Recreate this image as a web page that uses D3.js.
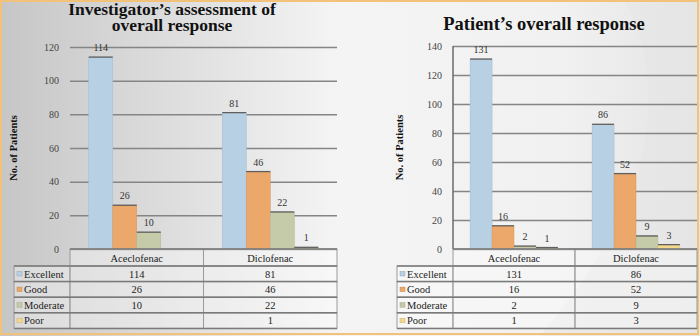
<!DOCTYPE html>
<html>
<head>
<meta charset="utf-8">
<script src="https://cdn.jsdelivr.net/npm/d3@7"></script>
<style>
  html, body { margin: 0; padding: 0; background: #fff; }
  svg { display: block; }
  svg text { font-family: "Liberation Serif", "DejaVu Serif", "Times New Roman", Times, serif; }
</style>
</head>
<body>
<svg width="700" height="336"></svg>
<script>
// data
var drugs = ["Aceclofenac", "Diclofenac"];
var levels = ["Excellent", "Good", "Moderate", "Poor"];
var levelColors = ["#b8d0e4", "#eca86b", "#c5caa8", "#f5d88c"];
var investigatorValues = [[114, 81], [26, 46], [10, 22], [null, 1]];
var patientValues = [[131, 86], [16, 52], [2, 9], [1, 3]];
var investigatorTicks = [0, 20, 40, 60, 80, 100, 120];
var patientTicks = [0, 20, 40, 60, 80, 100, 120, 140];

var svg = d3.select("svg");
var serif = "Liberation Serif, DejaVu Serif, Times New Roman, serif";

// background
var defs = svg.append("defs");
var bg = defs.append("linearGradient").attr("id", "bg").attr("x1", 0).attr("x2", 1).attr("y1", 0).attr("y2", 0);
bg.append("stop").attr("offset", "0%").attr("stop-color", "#c6c6c6");
bg.append("stop").attr("offset", "48%").attr("stop-color", "#f4f4f4");
bg.append("stop").attr("offset", "80%").attr("stop-color", "#f1f1f1");
bg.append("stop").attr("offset", "100%").attr("stop-color", "#e4e4e4");
svg.append("rect").attr("width", 700).attr("height", 336).attr("fill", "url(#bg)");
svg.append("path")
    .attr("d", "M625,0 Q700,150 540,336 L700,336 L700,0 Z")
    .attr("fill", "#e6e6e6").attr("opacity", 0.55);
svg.append("rect").attr("x", 1).attr("y", 1).attr("width", 697).attr("height", 333)
    .attr("fill", "none").attr("stroke", "#f2c27a").attr("stroke-width", 2);

var panels = [
  {title: ["Investigator\u2019s assessment of", "overall response"], titleX: 172, titleY: [15, 31],
   titleSize: 17.5,
   x0: 70, x1: 337, yTop: 47, yBottom: 249, max: 120, ticks: investigatorTicks,
   values: investigatorValues, legendX: 14, axisTitleX: 17, axisLine: false},
  {title: ["Patient\u2019s overall response"], titleX: 544, titleY: [30], titleSize: 18.5,
   x0: 453, x1: 697, yTop: 46, yBottom: 249, max: 140, ticks: patientTicks,
   values: patientValues, legendX: 397, axisTitleX: 403, axisLine: true}
];

panels.forEach(function(p) {
  var g = svg.append("g");

  // title
  g.selectAll(".title").data(p.title).enter().append("text")
      .attr("x", p.titleX)
      .attr("y", function(d, i) { return p.titleY[i]; })
      .attr("text-anchor", "middle")
      .attr("font-family", serif).attr("font-weight", "bold").attr("font-size", p.titleSize)
      .attr("fill", "#111")
      .text(function(d) { return d; });

  var y = d3.scaleLinear().domain([0, p.max]).range([p.yBottom, p.yTop]);
  var x = d3.scaleBand().domain(drugs).range([p.x0, p.x1]);
  var xi = d3.scaleBand().domain(levels).range([0, x.bandwidth()]).paddingOuter(0.78);

  // gridlines
  g.append("g")
      .attr("transform", "translate(" + p.x0 + ",0)")
      .call(d3.axisLeft(y).tickValues(p.ticks).tickSize(-(p.x1 - p.x0)).tickFormat(""))
      .call(function(a) {
        a.select(".domain").remove();
        a.selectAll("line").attr("stroke", "#858585").attr("stroke-width", 1.5);
      });

  // y axis labels
  g.append("g")
      .attr("transform", "translate(" + (p.x0 - 8) + ",0)")
      .call(d3.axisLeft(y).tickValues(p.ticks).tickSize(0))
      .call(function(a) {
        a.select(".domain").remove();
        a.selectAll("text").attr("font-family", serif).attr("font-size", 10).attr("fill", "#444");
      });

  if (p.axisLine) {
    g.append("line").attr("x1", p.x0).attr("x2", p.x0).attr("y1", y(p.max)).attr("y2", y(0))
        .attr("stroke", "#6a6a6a").attr("stroke-width", 1.5);
  }

  // axis title
  g.append("text")
      .attr("transform", "translate(" + p.axisTitleX + "," + ((p.yTop + p.yBottom) / 2) + ") rotate(-90)")
      .attr("text-anchor", "middle")
      .attr("font-family", serif).attr("font-weight", "bold").attr("font-size", 10.5)
      .attr("fill", "#111")
      .text("No. of Patients");

  // bars
  var cells = [];
  p.values.forEach(function(row, li) {
    row.forEach(function(v, di) {
      if (v !== null) cells.push({level: levels[li], li: li, drug: drugs[di], value: v});
    });
  });

  var bars = g.selectAll(".bar").data(cells).enter().append("g");
  bars.append("rect")
      .attr("x", function(d) { return x(d.drug) + xi(d.level); })
      .attr("y", function(d) { return y(d.value); })
      .attr("width", xi.bandwidth())
      .attr("height", function(d) { return y(0) - y(d.value); })
      .attr("fill", function(d) { return levelColors[d.li]; })
      .attr("stroke", function(d) { return d3.color(levelColors[d.li]).darker(0.3); })
      .attr("stroke-width", 0.5);
  bars.append("line")
      .attr("x1", function(d) { return x(d.drug) + xi(d.level); })
      .attr("x2", function(d) { return x(d.drug) + xi(d.level) + xi.bandwidth(); })
      .attr("y1", function(d) { return y(d.value); })
      .attr("y2", function(d) { return y(d.value); })
      .attr("stroke", "#5f5f5f").attr("stroke-width", 1.3);
  bars.append("text")
      .attr("x", function(d) { return x(d.drug) + xi(d.level) + xi.bandwidth() / 2; })
      .attr("y", function(d) { return y(d.value) - 6; })
      .attr("text-anchor", "middle")
      .attr("font-family", serif).attr("font-size", 10)
      .attr("fill", "#333")
      .text(function(d) { return d.value; });

  // data table
  var headTop = p.yBottom, headH = 17, rowH = 15.6;
  var rowTop = function(i) { return headTop + headH + i * rowH; };
  var t = g.append("g");

  drugs.forEach(function(d) {
    t.append("rect").attr("x", x(d)).attr("y", headTop).attr("width", x.bandwidth()).attr("height", headH)
        .attr("fill", "#fff").attr("fill-opacity", 0.35).attr("stroke", "#9a9a9a").attr("stroke-width", 1);
    t.append("text").attr("x", x(d) + x.bandwidth() / 2).attr("y", headTop + 12.5)
        .attr("text-anchor", "middle")
        .attr("font-family", serif).attr("font-size", 10.5).attr("fill", "#222")
        .text(d);
  });

  levels.forEach(function(l, li) {
    var top = rowTop(li);
    t.append("rect").attr("x", p.legendX).attr("y", top).attr("width", p.x0 - p.legendX).attr("height", rowH)
        .attr("fill", "#fff").attr("fill-opacity", 0.35).attr("stroke", "#9a9a9a").attr("stroke-width", 1);
    t.append("rect").attr("x", p.legendX + 3).attr("y", top + 5.5).attr("width", 5).attr("height", 4.5)
        .attr("fill", levelColors[li]).attr("stroke", d3.color(levelColors[li]).darker(0.6)).attr("stroke-width", 0.5);
    t.append("text").attr("x", p.legendX + 10).attr("y", top + 11.5)
        .attr("font-family", serif).attr("font-size", 10.5).attr("fill", "#222")
        .text(l);
    drugs.forEach(function(d, di) {
      var v = p.values[li][di];
      t.append("rect").attr("x", x(d)).attr("y", top).attr("width", x.bandwidth()).attr("height", rowH)
          .attr("fill", "#fff").attr("fill-opacity", 0.35).attr("stroke", "#9a9a9a").attr("stroke-width", 1);
      t.append("text").attr("x", x(d) + x.bandwidth() / 2).attr("y", top + 11.5)
          .attr("text-anchor", "middle")
          .attr("font-family", serif).attr("font-size", 10.5).attr("fill", "#222")
          .text(v === null ? "" : v);
    });
  });

  // darker row separators
  d3.range(levels.length + 1).forEach(function(i) {
    t.append("line").attr("x1", p.legendX).attr("x2", p.x1)
        .attr("y1", rowTop(i)).attr("y2", rowTop(i))
        .attr("stroke", "#7a7a7a").attr("stroke-width", 1.5);
  });
  t.append("line").attr("x1", p.x0).attr("x2", p.x1).attr("y1", headTop).attr("y2", headTop)
      .attr("stroke", "#7a7a7a").attr("stroke-width", 1.5);
});
</script>
</body>
</html>
